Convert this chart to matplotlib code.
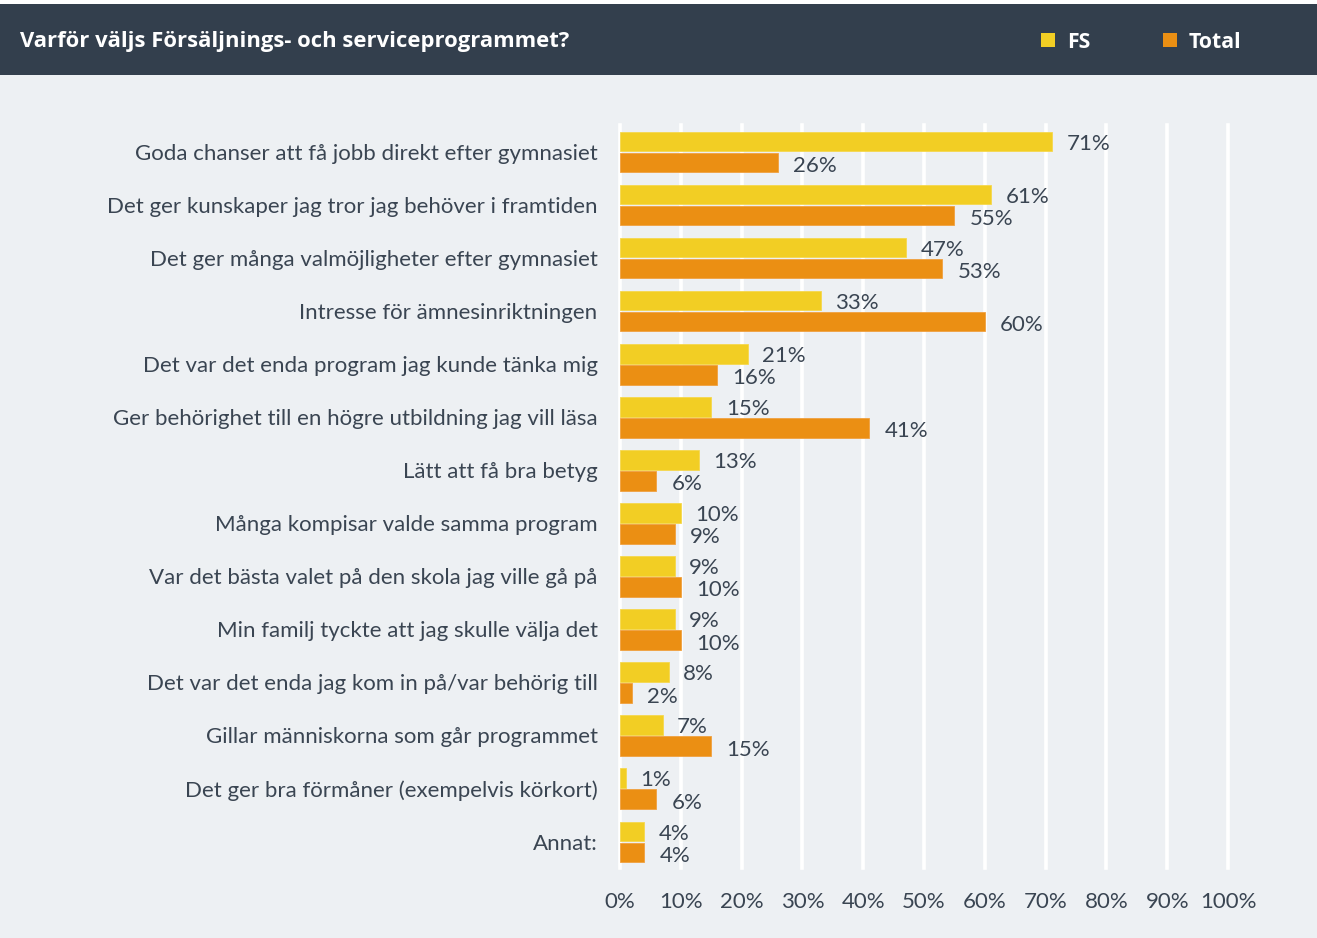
import matplotlib
matplotlib.use("Agg")
import matplotlib.pyplot as plt
from matplotlib.patches import Rectangle

categories = [
    "Goda chanser att få jobb direkt efter gymnasiet",
    "Det ger kunskaper jag tror jag behöver i framtiden",
    "Det ger många valmöjligheter efter gymnasiet",
    "Intresse för ämnesinriktningen",
    "Det var det enda program jag kunde tänka mig",
    "Ger behörighet till en högre utbildning jag vill läsa",
    "Lätt att få bra betyg",
    "Många kompisar valde samma program",
    "Var det bästa valet på den skola jag ville gå på",
    "Min familj tyckte att jag skulle välja det",
    "Det var det enda jag kom in på/var behörig till",
    "Gillar människorna som går programmet",
    "Det ger bra förmåner (exempelvis körkort)",
    "Annat:",
]
fs_values = [71, 61, 47, 33, 21, 15, 13, 10, 9, 9, 8, 7, 1, 4]
total_values = [26, 55, 53, 60, 16, 41, 6, 9, 10, 10, 2, 15, 6, 4]
x_ticks = [0, 10, 20, 30, 40, 50, 60, 70, 80, 90, 100]
series_names = ["FS", "Total"]

BG = "#edf0f3"
HEADER = "#333f4d"
FS_COLOR = "#f2ce24"
TOTAL_COLOR = "#eb8f13"
TEXT = "#3a4552"
FONT = "Lato"
FS_SIZE = 16

W, H = 1317, 938
fig = plt.figure(figsize=(W / 100, H / 100), dpi=100)
fig.patch.set_facecolor("white")

# page background and header band
fig.add_artist(Rectangle((0, 0), 1, 1 - 4 / H, transform=fig.transFigure,
                         facecolor=BG, edgecolor="none", zorder=-10))
fig.add_artist(Rectangle((0, 1 - 75 / H), 1, 71 / H, transform=fig.transFigure,
                         facecolor=HEADER, edgecolor="none", zorder=-5))
fig.text(20 / W, 1 - 42 / H, "Varför väljs Försäljnings- och serviceprogrammet?",
         color="white", fontsize=15.8, fontweight="bold", family="Open Sans",
         va="center", ha="left")

# legend in header
for name, color, sx in [(series_names[0], FS_COLOR, 1041), (series_names[1], TOTAL_COLOR, 1163)]:
    fig.add_artist(Rectangle((sx / W, 1 - 47 / H), 14 / W, 14 / H,
                             transform=fig.transFigure, facecolor=color,
                             edgecolor="none"))
    fig.text((sx + 26) / W, 1 - 42 / H, name, color="white", fontsize=15.3,
             fontweight="bold", family="Open Sans", va="center", ha="left")

left, right, top, bottom = 620, 1228, 125, 868
ax = fig.add_axes([left / W, 1 - bottom / H, (right - left) / W, (bottom - top) / H])
ax.set_facecolor("none")
ax.set_xlim(0, 100)
n = len(categories)
ax.set_ylim(n, 0)

for x in x_ticks:
    ax.axvline(x, color="white", lw=2.6, zorder=0, clip_on=False)

rows = [i + 0.5 for i in range(n)]
bh = 0.37
ax.barh([r - 0.19 for r in rows], fs_values, height=bh, color=FS_COLOR,
        edgecolor="#f5d84e", linewidth=0.6, zorder=2)
ax.barh([r + 0.205 for r in rows], total_values, height=bh, color=TOTAL_COLOR,
        edgecolor="#f0a040", linewidth=0.6, zorder=2)

for r, v in zip(rows, fs_values):
    ax.text(v + 2.4, r - 0.15, f"{v}%", color=TEXT, fontsize=FS_SIZE, family=FONT,
            va="center", ha="left")
for r, v in zip(rows, total_values):
    ax.text(v + 2.5, r + 0.27, f"{v}%", color=TEXT, fontsize=FS_SIZE, family=FONT,
            va="center", ha="left")

for r, c in zip(rows, categories):
    ax.text(-3.7, r + 0.04, c, color=TEXT, fontsize=FS_SIZE, family=FONT,
            va="center", ha="right")

ax.set_yticks([])
ax.set_xticks(x_ticks)
ax.set_xticklabels([f"{t}%" for t in x_ticks], color=TEXT, fontsize=FS_SIZE, family=FONT)
ax.tick_params(axis="x", length=0, pad=17)
for s in ax.spines.values():
    s.set_visible(False)

fig.savefig("out.png", dpi=100, facecolor=fig.get_facecolor())
